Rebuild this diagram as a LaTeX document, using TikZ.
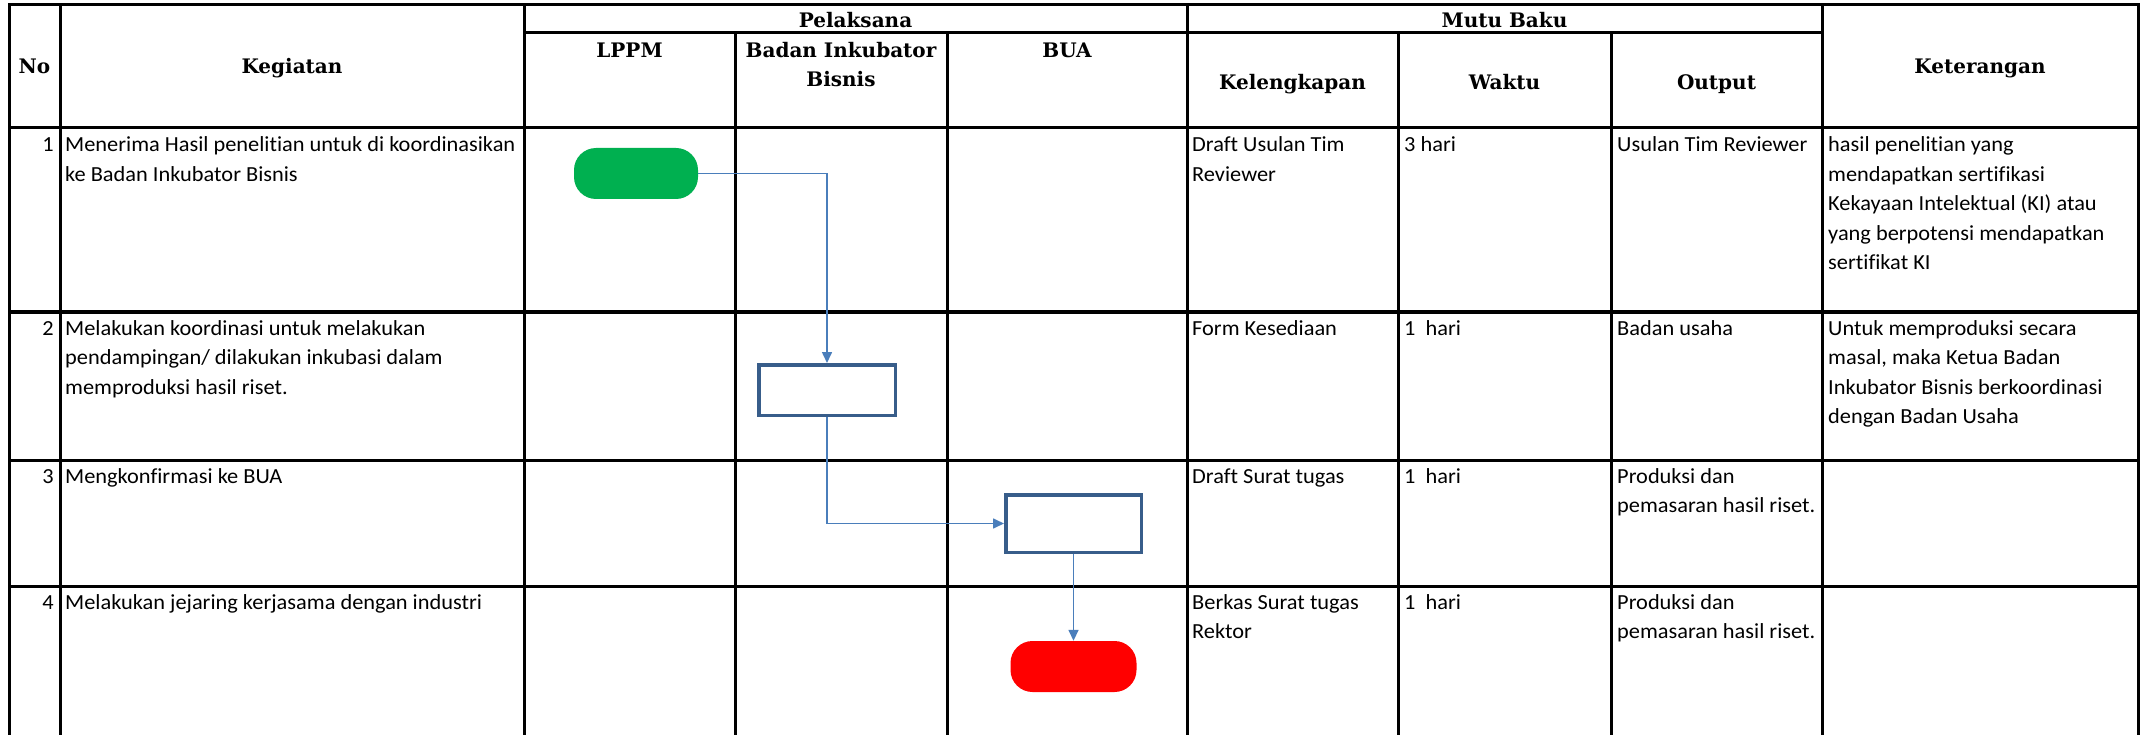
\documentclass[tikz,border=0pt]{standalone}
\usepackage{fontspec}
\setmainfont{Carlito}[Ligatures=CommonOff, FakeStretch=1.04]
\newfontfamily\hdrfont{DejaVu Serif}
\usetikzlibrary{arrows.meta}
\definecolor{connc}{HTML}{4A7EBB}
\definecolor{boxc}{HTML}{385D8A}
\definecolor{startc}{HTML}{00B050}
\definecolor{endc}{HTML}{FF0000}
\newcommand\bodysize{\fontsize{21.5}{29.5}\selectfont}
\newcommand\hdrsize{\hdrfont\bfseries\fontsize{20}{29}\selectfont}
\newcommand\cellt[1]{\begin{tabular}[t]{@{}l@{}}#1\end{tabular}}
\newcommand\cellc[1]{\begin{tabular}[t]{@{}c@{}}#1\end{tabular}}
\begin{document}
\begin{tikzpicture}[x=1pt,y=-1pt,
  gridline/.style={line width=3pt, line cap=rect},
  hdr/.style={anchor=base, inner sep=0pt, font=\hdrsize},
  body/.style={anchor=base west, inner sep=0pt, font=\bodysize},
  num/.style={anchor=base east, inner sep=0pt, font=\bodysize},
  conn/.style={draw=connc, line width=1.6pt, -{Triangle[length=11pt,width=10pt]}},
  procbox/.style={draw=boxc, line width=3.5pt, fill=white, inner sep=0pt},
  termbox/.style={inner sep=0pt, rounded corners=22pt, minimum width=124pt, minimum height=51pt}]
\useasboundingbox (0,0) rectangle (2144,735);
\fill[white] (0,0) rectangle (2144,735);
% grid
\draw[gridline] (9,5) -- (2138,5);
\draw[gridline] (524,33) -- (1822,33);
\foreach \yy in {128,312,460,586} \draw[gridline] (9,\yy) -- (2138,\yy);
\foreach \xx in {9,60,524,1187,1822,2138} \draw[gridline] (\xx,5) -- (\xx,740);
\foreach \xx in {735,947,1398,1611} \draw[gridline] (\xx,33) -- (\xx,740);
% headers
\node[hdr] (hNo) at (34.5,74) {No};
\node[hdr] (hKeg) at (292,74) {Kegiatan};
\node[hdr] (hPel) at (855.5,28) {Pelaksana};
\node[hdr] (hMutu) at (1504.5,28) {Mutu Baku};
\node[hdr] (hLPPM) at (629.5,58) {LPPM};
\node[hdr] (hBIB) at (841,58) {\cellc{Badan Inkubator\\Bisnis}};
\node[hdr] (hBUA) at (1067,58) {BUA};
\node[hdr] (hKel) at (1292.5,90) {Kelengkapan};
\node[hdr] (hWak) at (1504.5,90) {Waktu};
\node[hdr] (hOut) at (1716.5,90) {Output};
\node[hdr] (hKet) at (1980,74) {Keterangan};
% row 1
\node[num] (n1) at (54,152) {1};
\node[body] (k1) at (65,152) {\cellt{Menerima Hasil penelitian untuk di koordinasikan\\ke Badan Inkubator Bisnis}};
\node[body] (l1) at (1192,152) {\cellt{Draft Usulan Tim\\Reviewer}};
\node[body] (w1) at (1404,152) {3 hari};
\node[body] (o1) at (1617,152) {Usulan Tim Reviewer};
\node[body] (e1) at (1828,152) {\cellt{hasil penelitian yang\\mendapatkan sertifikasi\\Kekayaan Intelektual (KI) atau\\yang berpotensi mendapatkan\\sertifikat KI}};
% row 2
\node[num] (n2) at (54,335) {2};
\node[body] (k2) at (65,335) {\cellt{Melakukan koordinasi untuk melakukan\\pendampingan/ dilakukan inkubasi dalam\\memproduksi hasil riset.}};
\node[body] (l2) at (1192,335) {Form Kesediaan};
\node[body] (w2) at (1404,335) {1\ \ hari};
\node[body] (o2) at (1617,335) {Badan usaha};
\node[body] (e2) at (1828,335) {\cellt{Untuk memproduksi secara\\masal, maka Ketua Badan\\Inkubator Bisnis berkoordinasi\\dengan Badan Usaha}};
% row 3
\node[num] (n3) at (54,483) {3};
\node[body] (k3) at (65,483) {Mengkonfirmasi ke BUA};
\node[body] (l3) at (1192,483) {Draft Surat tugas};
\node[body] (w3) at (1404,483) {1\ \ hari};
\node[body] (o3) at (1617,483) {\cellt{Produksi dan\\pemasaran hasil riset.}};
% row 4
\node[num] (n4) at (54,609) {4};
\node[body] (k4) at (65,609) {Melakukan jejaring kerjasama dengan industri};
\node[body] (l4) at (1192,609) {\cellt{Berkas Surat tugas\\Rektor}};
\node[body] (w4) at (1404,609) {1\ \ hari};
\node[body] (o4) at (1617,609) {\cellt{Produksi dan\\pemasaran hasil riset.}};
% flow shapes
\node[termbox, fill=startc] (start) at (636,173.5) {};
\node[procbox, minimum width=136.5pt, minimum height=50.5pt] (p2) at (827,390) {};
\node[procbox, minimum width=135.5pt, minimum height=57.5pt] (p3) at (1073.5,523.5) {};
\node[termbox, fill=endc, minimum width=126pt] (stop) at (1073.5,666.5) {};
% connectors
\draw[conn] (start.east) -| (p2.north);
\draw[conn] (p2.south) |- (p3.west);
\draw[conn] (p3.south) -- (stop.north);
\end{tikzpicture}
\end{document}
